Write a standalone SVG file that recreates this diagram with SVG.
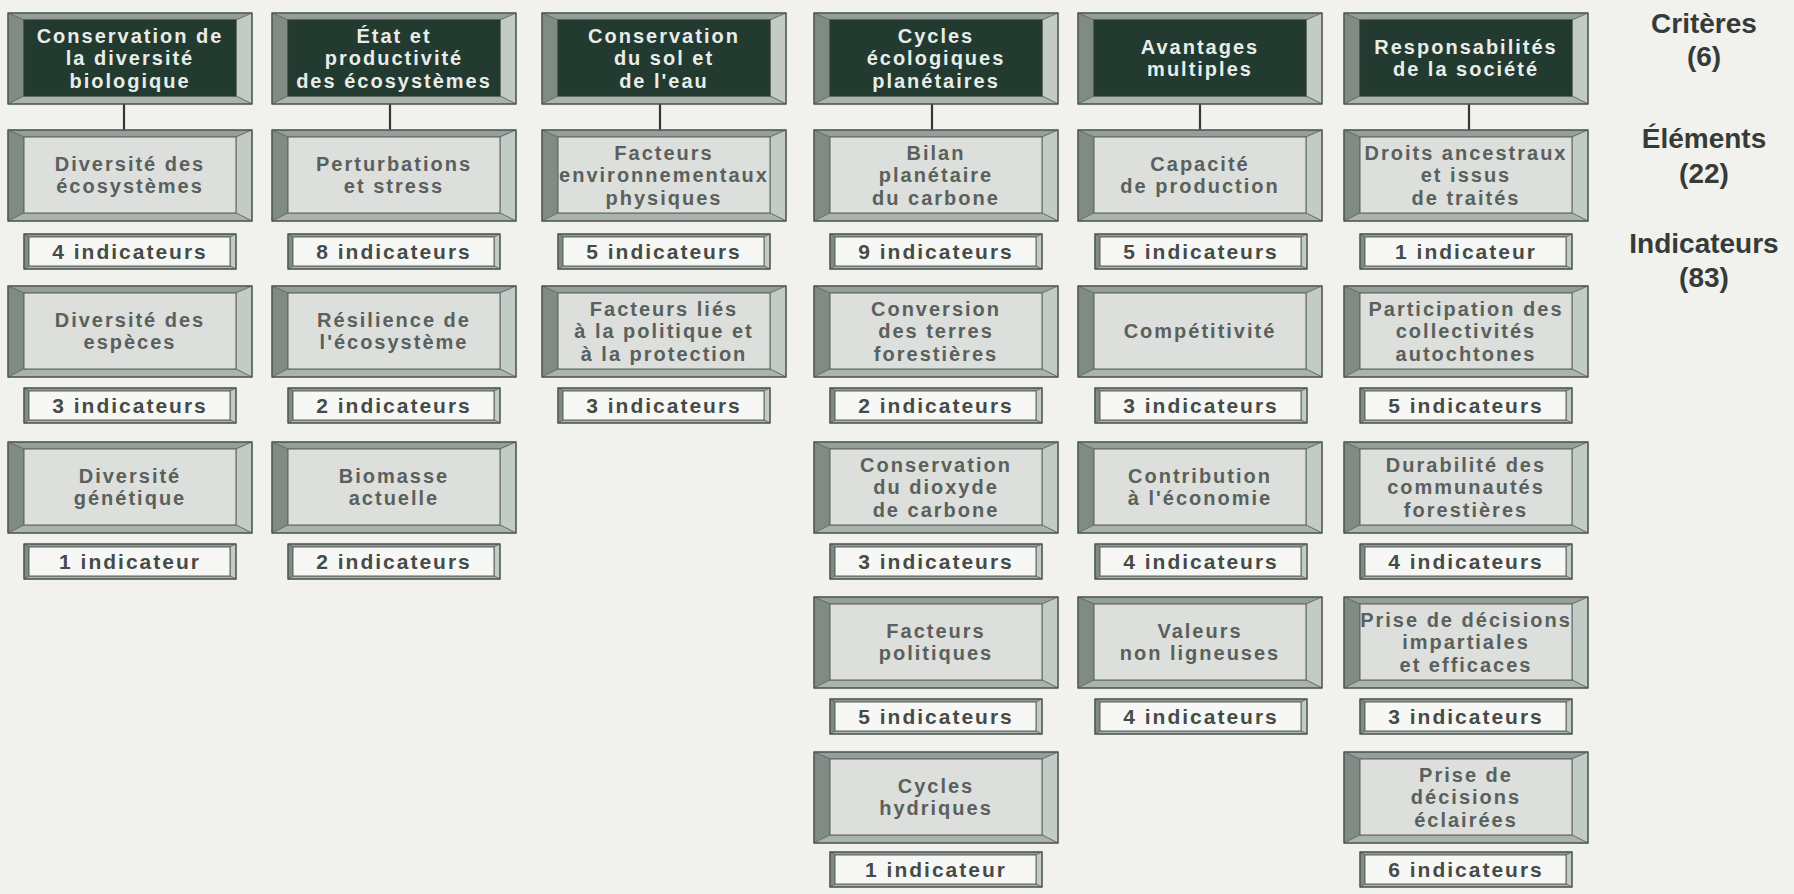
<svg xmlns="http://www.w3.org/2000/svg" xmlns:xlink="http://www.w3.org/1999/xlink" width="1794" height="894" viewBox="0 0 1794 894">
<style>
.bt{fill:#959f99}
.bl{fill:#808b85}
.br{fill:#c3cbc6}
.bb{fill:#aab3ae}
.bev polygon{stroke:#5f6863;stroke-width:0.8}
.frame{fill:none;stroke:#4c5450;stroke-width:1.3}
.inD{fill:#223a30;stroke:#303a35;stroke-width:1}
.inL{fill:#dcdfdc;stroke:#5c635f;stroke-width:1}
.inW{fill:#f7f8f6;stroke:#5c635f;stroke-width:1}
text{font-family:"Liberation Sans",Arial,Helvetica,sans-serif;font-weight:bold;text-anchor:middle}
.th{font-size:20px;letter-spacing:2px;fill:#e8ede9}
.te{font-size:20px;letter-spacing:2px;fill:#5a605c}
.ti{font-size:21px;letter-spacing:2px;fill:#464b48}
.lab{font-size:28px;fill:#363b38}
.conn line{stroke:#333836;stroke-width:2.2}
</style>
<defs>
<g id="big" class="bev">
<polygon class="bt" points="0,0 244,0 228,7 16,7"/>
<polygon class="bl" points="0,0 16,7 16,83 0,91"/>
<polygon class="br" points="244,0 244,91 228,83 228,7"/>
<polygon class="bb" points="0,91 16,83 228,83 244,91"/>
<rect class="frame" x="0" y="0" width="244" height="91"/>
</g>
<g id="small" class="bev">
<polygon class="bt" points="0,0 212,0 206,3 5,3"/>
<polygon class="bl" points="0,0 5,3 5,32 0,35"/>
<polygon class="br" points="212,0 212,35 206,32 206,3"/>
<polygon class="bb" points="0,35 5,32 206,32 212,35"/>
<rect class="frame" x="0" y="0" width="212" height="35"/>
<rect class="inW" x="5" y="3" width="201" height="29"/>
</g>
</defs>
<rect x="0" y="0" width="1794" height="894" fill="#f1f1ee"/>

<g id="connectors" class="conn">
<line x1="124" y1="104" x2="124" y2="130"/>
<line x1="390" y1="104" x2="390" y2="130"/>
<line x1="660" y1="104" x2="660" y2="130"/>
<line x1="932" y1="104" x2="932" y2="130"/>
<line x1="1200" y1="104" x2="1200" y2="130"/>
<line x1="1469" y1="104" x2="1469" y2="130"/>
</g>

<!-- Column 1 -->
<g id="c1-critere" transform="translate(8,13)"><use href="#big"/><rect class="inD" x="16" y="7" width="212" height="76"/><text class="th"><tspan x="122" y="29.5">Conservation de</tspan><tspan x="122" y="52">la diversité</tspan><tspan x="122" y="74.5">biologique</tspan></text></g>
<g id="c1-e1" transform="translate(8,130)"><use href="#big"/><rect class="inL" x="16" y="7" width="212" height="76"/><text class="te"><tspan x="122" y="41">Diversité des</tspan><tspan x="122" y="63">écosystèmes</tspan></text></g>
<g id="c1-i1" transform="translate(24,234)"><use href="#small"/><text class="ti" x="106" y="25">4 indicateurs</text></g>
<g id="c1-e2" transform="translate(8,286)"><use href="#big"/><rect class="inL" x="16" y="7" width="212" height="76"/><text class="te"><tspan x="122" y="41">Diversité des</tspan><tspan x="122" y="63">espèces</tspan></text></g>
<g id="c1-i2" transform="translate(24,388)"><use href="#small"/><text class="ti" x="106" y="25">3 indicateurs</text></g>
<g id="c1-e3" transform="translate(8,442)"><use href="#big"/><rect class="inL" x="16" y="7" width="212" height="76"/><text class="te"><tspan x="122" y="41">Diversité</tspan><tspan x="122" y="63">génétique</tspan></text></g>
<g id="c1-i3" transform="translate(24,544)"><use href="#small"/><text class="ti" x="106" y="25">1 indicateur</text></g>

<!-- Column 2 -->
<g id="c2-critere" transform="translate(272,13)"><use href="#big"/><rect class="inD" x="16" y="7" width="212" height="76"/><text class="th"><tspan x="122" y="29.5">État et</tspan><tspan x="122" y="52">productivité</tspan><tspan x="122" y="74.5">des écosystèmes</tspan></text></g>
<g id="c2-e1" transform="translate(272,130)"><use href="#big"/><rect class="inL" x="16" y="7" width="212" height="76"/><text class="te"><tspan x="122" y="41">Perturbations</tspan><tspan x="122" y="63">et stress</tspan></text></g>
<g id="c2-i1" transform="translate(288,234)"><use href="#small"/><text class="ti" x="106" y="25">8 indicateurs</text></g>
<g id="c2-e2" transform="translate(272,286)"><use href="#big"/><rect class="inL" x="16" y="7" width="212" height="76"/><text class="te"><tspan x="122" y="41">Résilience de</tspan><tspan x="122" y="63">l'écosystème</tspan></text></g>
<g id="c2-i2" transform="translate(288,388)"><use href="#small"/><text class="ti" x="106" y="25">2 indicateurs</text></g>
<g id="c2-e3" transform="translate(272,442)"><use href="#big"/><rect class="inL" x="16" y="7" width="212" height="76"/><text class="te"><tspan x="122" y="41">Biomasse</tspan><tspan x="122" y="63">actuelle</tspan></text></g>
<g id="c2-i3" transform="translate(288,544)"><use href="#small"/><text class="ti" x="106" y="25">2 indicateurs</text></g>

<!-- Column 3 -->
<g id="c3-critere" transform="translate(542,13)"><use href="#big"/><rect class="inD" x="16" y="7" width="212" height="76"/><text class="th"><tspan x="122" y="29.5">Conservation</tspan><tspan x="122" y="52">du sol et</tspan><tspan x="122" y="74.5">de l'eau</tspan></text></g>
<g id="c3-e1" transform="translate(542,130)"><use href="#big"/><rect class="inL" x="16" y="7" width="212" height="76"/><text class="te"><tspan x="122" y="29.5">Facteurs</tspan><tspan x="122" y="52">environnementaux</tspan><tspan x="122" y="74.5">physiques</tspan></text></g>
<g id="c3-i1" transform="translate(558,234)"><use href="#small"/><text class="ti" x="106" y="25">5 indicateurs</text></g>
<g id="c3-e2" transform="translate(542,286)"><use href="#big"/><rect class="inL" x="16" y="7" width="212" height="76"/><text class="te"><tspan x="122" y="29.5">Facteurs liés</tspan><tspan x="122" y="52">à la politique et</tspan><tspan x="122" y="74.5">à la protection</tspan></text></g>
<g id="c3-i2" transform="translate(558,388)"><use href="#small"/><text class="ti" x="106" y="25">3 indicateurs</text></g>

<!-- Column 4 -->
<g id="c4-critere" transform="translate(814,13)"><use href="#big"/><rect class="inD" x="16" y="7" width="212" height="76"/><text class="th"><tspan x="122" y="29.5">Cycles</tspan><tspan x="122" y="52">écologiques</tspan><tspan x="122" y="74.5">planétaires</tspan></text></g>
<g id="c4-e1" transform="translate(814,130)"><use href="#big"/><rect class="inL" x="16" y="7" width="212" height="76"/><text class="te"><tspan x="122" y="29.5">Bilan</tspan><tspan x="122" y="52">planétaire</tspan><tspan x="122" y="74.5">du carbone</tspan></text></g>
<g id="c4-i1" transform="translate(830,234)"><use href="#small"/><text class="ti" x="106" y="25">9 indicateurs</text></g>
<g id="c4-e2" transform="translate(814,286)"><use href="#big"/><rect class="inL" x="16" y="7" width="212" height="76"/><text class="te"><tspan x="122" y="29.5">Conversion</tspan><tspan x="122" y="52">des terres</tspan><tspan x="122" y="74.5">forestières</tspan></text></g>
<g id="c4-i2" transform="translate(830,388)"><use href="#small"/><text class="ti" x="106" y="25">2 indicateurs</text></g>
<g id="c4-e3" transform="translate(814,442)"><use href="#big"/><rect class="inL" x="16" y="7" width="212" height="76"/><text class="te"><tspan x="122" y="29.5">Conservation</tspan><tspan x="122" y="52">du dioxyde</tspan><tspan x="122" y="74.5">de carbone</tspan></text></g>
<g id="c4-i3" transform="translate(830,544)"><use href="#small"/><text class="ti" x="106" y="25">3 indicateurs</text></g>
<g id="c4-e4" transform="translate(814,597)"><use href="#big"/><rect class="inL" x="16" y="7" width="212" height="76"/><text class="te"><tspan x="122" y="41">Facteurs</tspan><tspan x="122" y="63">politiques</tspan></text></g>
<g id="c4-i4" transform="translate(830,699)"><use href="#small"/><text class="ti" x="106" y="25">5 indicateurs</text></g>
<g id="c4-e5" transform="translate(814,752)"><use href="#big"/><rect class="inL" x="16" y="7" width="212" height="76"/><text class="te"><tspan x="122" y="41">Cycles</tspan><tspan x="122" y="63">hydriques</tspan></text></g>
<g id="c4-i5" transform="translate(830,852)"><use href="#small"/><text class="ti" x="106" y="25">1 indicateur</text></g>

<!-- Column 5 -->
<g id="c5-critere" transform="translate(1078,13)"><use href="#big"/><rect class="inD" x="16" y="7" width="212" height="76"/><text class="th"><tspan x="122" y="41">Avantages</tspan><tspan x="122" y="63">multiples</tspan></text></g>
<g id="c5-e1" transform="translate(1078,130)"><use href="#big"/><rect class="inL" x="16" y="7" width="212" height="76"/><text class="te"><tspan x="122" y="41">Capacité</tspan><tspan x="122" y="63">de production</tspan></text></g>
<g id="c5-i1" transform="translate(1095,234)"><use href="#small"/><text class="ti" x="106" y="25">5 indicateurs</text></g>
<g id="c5-e2" transform="translate(1078,286)"><use href="#big"/><rect class="inL" x="16" y="7" width="212" height="76"/><text class="te"><tspan x="122" y="52">Compétitivité</tspan></text></g>
<g id="c5-i2" transform="translate(1095,388)"><use href="#small"/><text class="ti" x="106" y="25">3 indicateurs</text></g>
<g id="c5-e3" transform="translate(1078,442)"><use href="#big"/><rect class="inL" x="16" y="7" width="212" height="76"/><text class="te"><tspan x="122" y="41">Contribution</tspan><tspan x="122" y="63">à l'économie</tspan></text></g>
<g id="c5-i3" transform="translate(1095,544)"><use href="#small"/><text class="ti" x="106" y="25">4 indicateurs</text></g>
<g id="c5-e4" transform="translate(1078,597)"><use href="#big"/><rect class="inL" x="16" y="7" width="212" height="76"/><text class="te"><tspan x="122" y="41">Valeurs</tspan><tspan x="122" y="63">non ligneuses</tspan></text></g>
<g id="c5-i4" transform="translate(1095,699)"><use href="#small"/><text class="ti" x="106" y="25">4 indicateurs</text></g>

<!-- Column 6 -->
<g id="c6-critere" transform="translate(1344,13)"><use href="#big"/><rect class="inD" x="16" y="7" width="212" height="76"/><text class="th"><tspan x="122" y="41">Responsabilités</tspan><tspan x="122" y="63">de la société</tspan></text></g>
<g id="c6-e1" transform="translate(1344,130)"><use href="#big"/><rect class="inL" x="16" y="7" width="212" height="76"/><text class="te"><tspan x="122" y="29.5">Droits ancestraux</tspan><tspan x="122" y="52">et issus</tspan><tspan x="122" y="74.5">de traités</tspan></text></g>
<g id="c6-i1" transform="translate(1360,234)"><use href="#small"/><text class="ti" x="106" y="25">1 indicateur</text></g>
<g id="c6-e2" transform="translate(1344,286)"><use href="#big"/><rect class="inL" x="16" y="7" width="212" height="76"/><text class="te"><tspan x="122" y="29.5">Participation des</tspan><tspan x="122" y="52">collectivités</tspan><tspan x="122" y="74.5">autochtones</tspan></text></g>
<g id="c6-i2" transform="translate(1360,388)"><use href="#small"/><text class="ti" x="106" y="25">5 indicateurs</text></g>
<g id="c6-e3" transform="translate(1344,442)"><use href="#big"/><rect class="inL" x="16" y="7" width="212" height="76"/><text class="te"><tspan x="122" y="29.5">Durabilité des</tspan><tspan x="122" y="52">communautés</tspan><tspan x="122" y="74.5">forestières</tspan></text></g>
<g id="c6-i3" transform="translate(1360,544)"><use href="#small"/><text class="ti" x="106" y="25">4 indicateurs</text></g>
<g id="c6-e4" transform="translate(1344,597)"><use href="#big"/><rect class="inL" x="16" y="7" width="212" height="76"/><text class="te"><tspan x="122" y="29.5">Prise de décisions</tspan><tspan x="122" y="52">impartiales</tspan><tspan x="122" y="74.5">et efficaces</tspan></text></g>
<g id="c6-i4" transform="translate(1360,699)"><use href="#small"/><text class="ti" x="106" y="25">3 indicateurs</text></g>
<g id="c6-e5" transform="translate(1344,752)"><use href="#big"/><rect class="inL" x="16" y="7" width="212" height="76"/><text class="te"><tspan x="122" y="29.5">Prise de</tspan><tspan x="122" y="52">décisions</tspan><tspan x="122" y="74.5">éclairées</tspan></text></g>
<g id="c6-i5" transform="translate(1360,852)"><use href="#small"/><text class="ti" x="106" y="25">6 indicateurs</text></g>

<!-- Level labels -->
<g id="labels">
<text class="lab"><tspan x="1704" y="33">Critères</tspan><tspan x="1704" y="66">(6)</tspan></text>
<text class="lab"><tspan x="1704" y="148">Éléments</tspan><tspan x="1704" y="183">(22)</tspan></text>
<text class="lab"><tspan x="1704" y="253">Indicateurs</tspan><tspan x="1704" y="287">(83)</tspan></text>
</g>
</svg>
